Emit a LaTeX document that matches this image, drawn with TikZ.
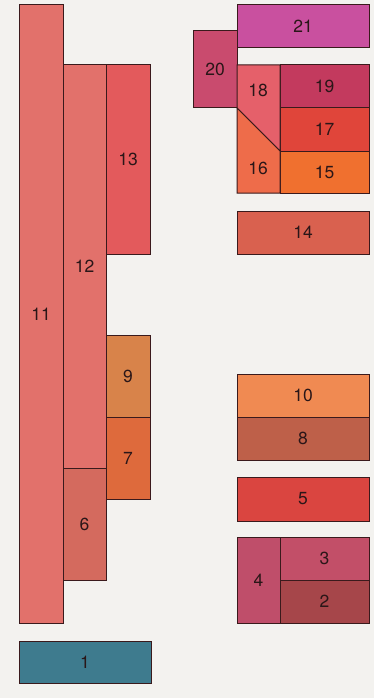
\documentclass[tikz,border=0pt]{standalone}
\usepackage{fontspec}
\setmainfont{TeX Gyre Heros}
\usepackage{xcolor}
\definecolor{paper}{HTML}{F3F2EF}
\definecolor{edge}{HTML}{3A1A1C}
\definecolor{ink}{HTML}{2A1618}
\definecolor{c1}{HTML}{3E7B8E}
\definecolor{c2}{HTML}{A6464A}
\definecolor{c3}{HTML}{C24F68}
\definecolor{c4}{HTML}{BF4E6A}
\definecolor{c5}{HTML}{DA4540}
\definecolor{c6}{HTML}{D46A5E}
\definecolor{c7}{HTML}{DE6A3C}
\definecolor{c8}{HTML}{BE6049}
\definecolor{c9}{HTML}{D8834A}
\definecolor{c10}{HTML}{F08A52}
\definecolor{c11}{HTML}{E2716B}
\definecolor{c13}{HTML}{E35A5C}
\definecolor{c14}{HTML}{D9614F}
\definecolor{c15}{HTML}{F0702F}
\definecolor{c16}{HTML}{EE6C4A}
\definecolor{c17}{HTML}{E0453A}
\definecolor{c18}{HTML}{E5606A}
\definecolor{c19}{HTML}{C33A5E}
\definecolor{c20}{HTML}{C94B6E}
\definecolor{c21}{HTML}{C9509F}

\begin{document}
\begin{tikzpicture}[x=1pt, y=-1pt, every node/.style={font=\fontsize{17.5}{20}\selectfont, text=ink}, blk/.style={draw=edge, line width=1pt, inner sep=0pt, outer sep=0pt}, lbl/.style={inner sep=0pt}]
\fill[paper] (0,0) rectangle (374,698);
\useasboundingbox (0,0) rectangle (374,698);
% left column
\node[blk, fill=c11, minimum width=44, minimum height=618] (r11) at (41,314) {11};
\node[blk, fill=c11, minimum width=43, minimum height=403] (r12) at (84.5,266.5) {12};
\node[blk, fill=c13, minimum width=44, minimum height=189] (r13) at (128,159.5) {13};
\node[blk, fill=c9, minimum width=44, minimum height=82] (r9) at (128,376) {9};
\node[blk, fill=c7, minimum width=44, minimum height=82] (r7) at (128,458) {7};
\node[blk, fill=c6, minimum width=43, minimum height=112] (r6) at (84.5,524) {6};
\node[blk, fill=c1, minimum width=132, minimum height=42] (r1) at (85,662) {1};
% right column
\node[blk, fill=c21, minimum width=132, minimum height=43] (r21) at (303,26.5) {21};
\node[blk, fill=c20, minimum width=44, minimum height=77] (r20) at (215,69.5) {20};
\node[blk, fill=c19, minimum width=89, minimum height=43] (r19) at (324.5,86.5) {19};
\node[blk, fill=c17, minimum width=89, minimum height=43] (r17) at (324.5,129.5) {17};
\node[blk, fill=c15, minimum width=89, minimum height=42] (r15) at (324.5,172) {15};
\filldraw[fill=c18, draw=edge, line width=1pt] (237,65) -- (280,65) -- (280,151) -- (237,108) -- cycle;
\filldraw[fill=c16, draw=edge, line width=1pt] (237,108) -- (280,151) -- (280,193) -- (237,193) -- cycle;
\node[lbl] (r18) at (258,90) {18};
\node[lbl] (r16) at (258,168) {16};
\node[blk, fill=c14, minimum width=132, minimum height=43] (r14) at (303,232.5) {14};
\node[blk, fill=c10, minimum width=132, minimum height=43] (r10) at (303,395.5) {10};
\node[blk, fill=c8, minimum width=132, minimum height=43] (r8) at (303,438.5) {8};
\node[blk, fill=c5, minimum width=132, minimum height=44] (r5) at (303,499) {5};
\node[blk, fill=c4, minimum width=43, minimum height=86] (r4) at (258.5,580) {4};
\node[blk, fill=c3, minimum width=89, minimum height=43] (r3) at (324.5,558.5) {3};
\node[blk, fill=c2, minimum width=89, minimum height=43] (r2) at (324.5,601.5) {2};
\end{tikzpicture}
\end{document}
